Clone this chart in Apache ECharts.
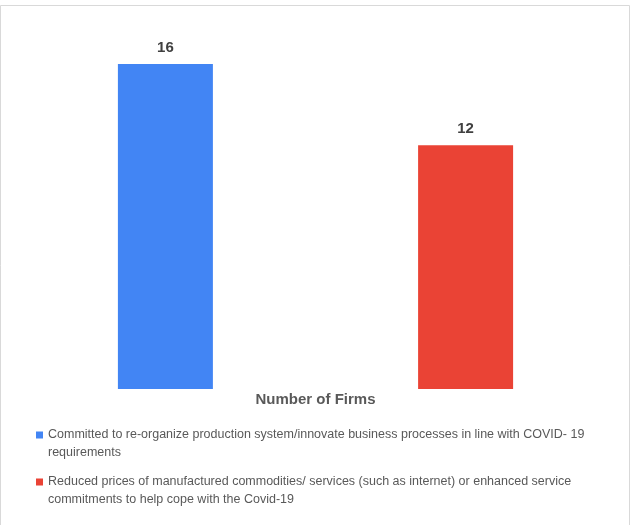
<!DOCTYPE html>
<html>
<head>
<meta charset="utf-8">
<script src="https://cdn.jsdelivr.net/npm/echarts@6/dist/echarts.min.js"></script>
<style>
html,body{margin:0;padding:0;background:#fff;}
#chart{width:631px;height:525px;}
</style>
</head>
<body>
<div id="chart"></div>
<script>
const categories = ['Number of Firms'];
const seriesNames = [
  'Committed to re-organize production system/innovate business processes in line with COVID- 19 requirements',
  'Reduced prices of manufactured commodities/ services (such as internet) or enhanced service commitments to help cope with the Covid-19'
];
const seriesValues = [[16], [12]];
const seriesColors = ['#4285f4', '#ea4335'];

const FONT = '"Liberation Sans", Arial, sans-serif';
const chart = echarts.init(document.getElementById('chart'));
chart.setOption({
  animation: false,
  textStyle: { fontFamily: FONT },
  graphic: [{
    type: 'rect', silent: true, z: -1,
    shape: { x: 0.5, y: 5.5, width: 629, height: 530 },
    style: { fill: 'none', stroke: '#d9d9d9', lineWidth: 1 }
  }],
  grid: { left: 10, right: 10, top: 64, bottom: 136 },
  xAxis: {
    type: 'category', data: categories,
    axisLine: { show: false }, axisTick: { show: false },
    axisLabel: { margin: 3, fontSize: 15, fontWeight: 'bold', color: '#595959', fontFamily: FONT }
  },
  yAxis: { type: 'value', min: 0, max: 16, show: false, splitLine: { show: false } },
  legend: {
    orient: 'vertical', left: 31, top: 421, itemWidth: 7, itemHeight: 25, itemGap: 11,
    icon: 'path://M0,0H7V7H0Z M0,25H0.01V25.01H0Z',
    textStyle: { fontSize: 12.5, color: '#595959', width: 540, overflow: 'break', lineHeight: 18, fontFamily: FONT },
    data: seriesNames
  },
  series: seriesNames.map((n, i) => ({
    name: n, type: 'bar', data: seriesValues[i],
    barWidth: 95, barGap: '216%',
    itemStyle: { color: seriesColors[i] },
    label: { show: true, position: 'top', distance: 9, fontSize: 15, fontWeight: 'bold', color: '#404040', fontFamily: FONT }
  }))
});
</script>
</body>
</html>
